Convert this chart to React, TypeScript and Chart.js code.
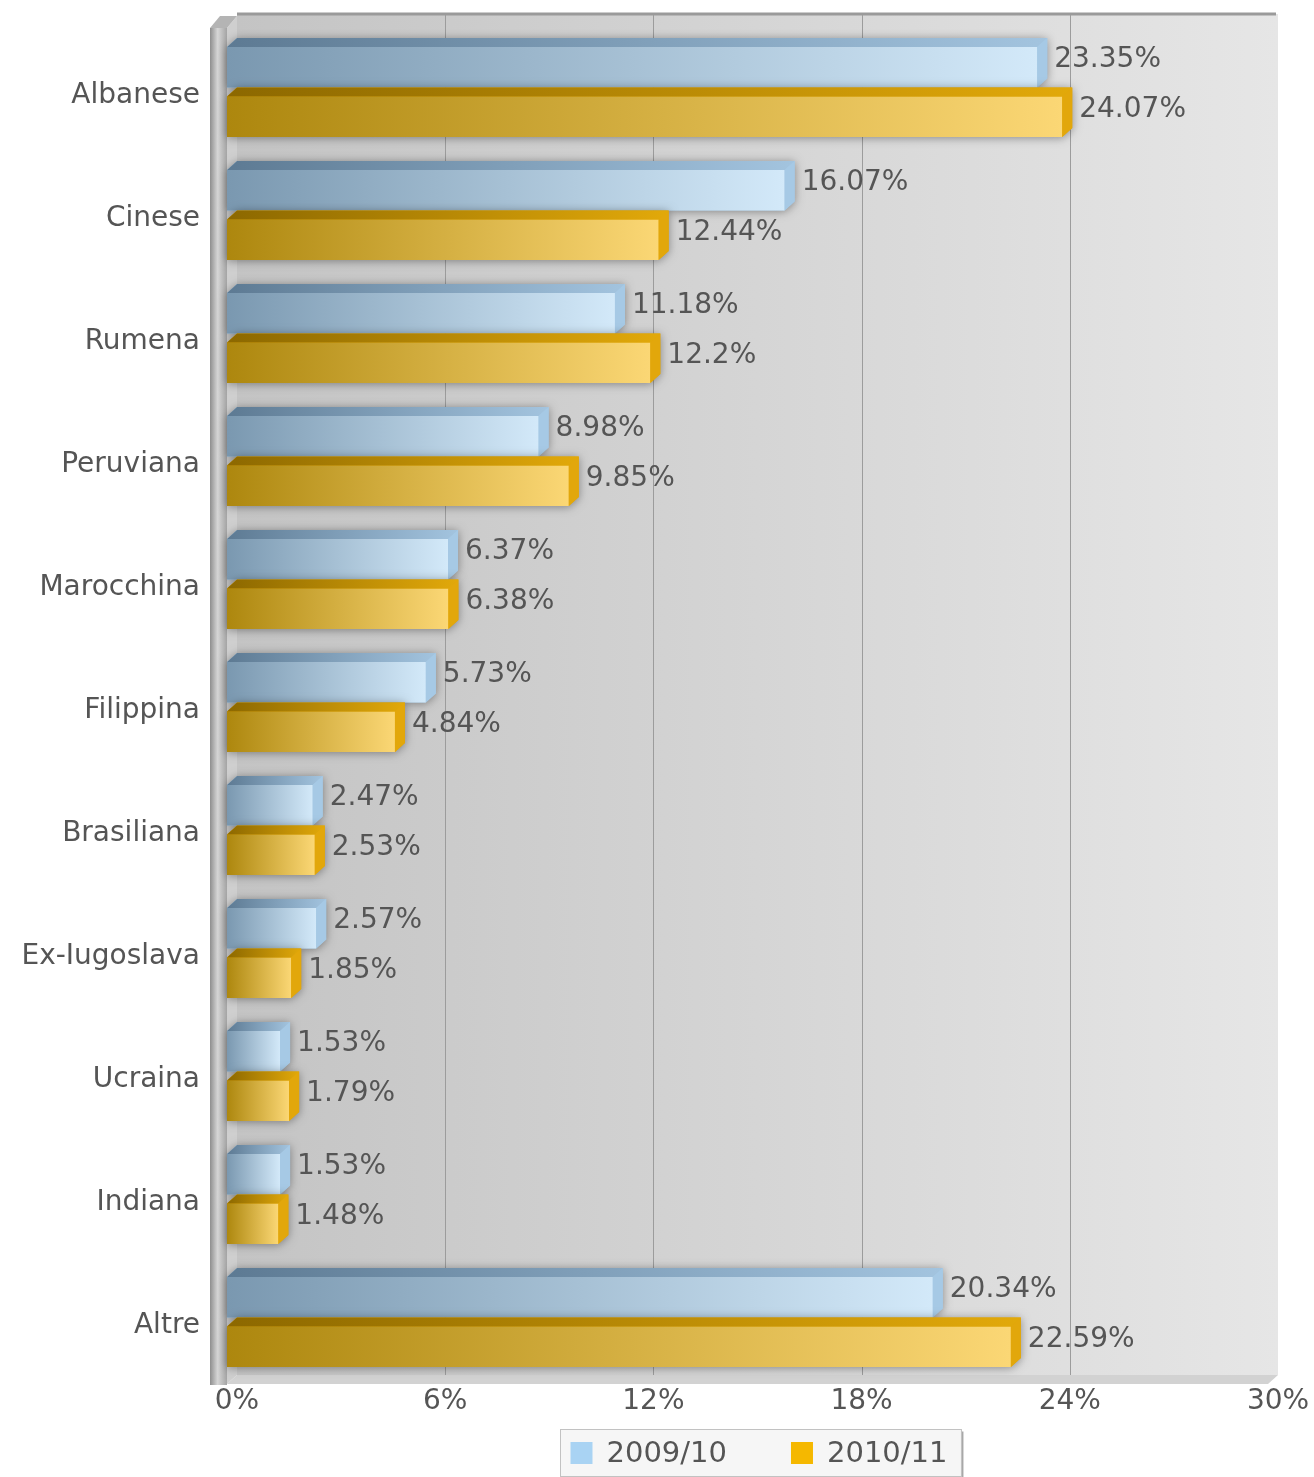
import React, { useEffect, useRef } from 'react';
import { Chart, registerables } from 'chart.js';

Chart.register(...registerables);

const categories = ['Albanese', 'Cinese', 'Rumena', 'Peruviana', 'Marocchina', 'Filippina', 'Brasiliana', 'Ex-Iugoslava', 'Ucraina', 'Indiana', 'Altre'];
const series2009 = [23.35, 16.07, 11.18, 8.98, 6.37, 5.73, 2.47, 2.57, 1.53, 1.53, 20.34];
const series2010 = [24.07, 12.44, 12.2, 9.85, 6.38, 4.84, 2.53, 1.85, 1.79, 1.48, 22.59];
const seriesLabels = ['2009/10', '2010/11'];
const xTickValues = [0, 6, 12, 18, 24, 30];

const FONT = '"DejaVu Sans", Verdana, sans-serif';
const TEXT = '#555555';
const DX = 10;
const DY = 9;

const palettes = [
  { front: ['#7a98b0', '#d3e9f9'], top: ['#5d7a93', '#a3c4df'], side: '#a6c9e5', legend: '#a9d3f3' },
  { front: ['#ad870e', '#fbd775'], top: ['#8c6800', '#e2a90a'], side: '#e2a70b', legend: '#f5b800' },
];

const backdrop = {
  id: 'backdrop',
  beforeDatasetsDraw(chart: any) {
    const { ctx, chartArea: ca, scales } = chart;
    const x = scales.x;
    const wallTop = ca.top - 12;
    const backBottom = ca.bottom - 4;
    const frontBottom = ca.bottom + 5;
    ctx.save();
    const g = ctx.createLinearGradient(ca.left + DX, 0, ca.right + DX, 0);
    g.addColorStop(0, '#c4c4c4');
    g.addColorStop(1, '#e6e6e6');
    ctx.fillStyle = g;
    ctx.fillRect(ca.left + DX, wallTop, ca.right - ca.left, backBottom - wallTop);
    ctx.strokeStyle = '#9a9a9a';
    ctx.lineWidth = 3;
    ctx.beginPath();
    ctx.moveTo(ca.left + DX, wallTop);
    ctx.lineTo(ca.right + DX - 2, wallTop);
    ctx.stroke();
    ctx.strokeStyle = '#9c9c9c';
    ctx.lineWidth = 1;
    xTickValues.forEach((v) => {
      if (v === xTickValues[0] || v === xTickValues[xTickValues.length - 1]) return;
      const px = Math.round(x.getPixelForValue(v) + DX) + 0.5;
      ctx.beginPath();
      ctx.moveTo(px, wallTop + 1);
      ctx.lineTo(px, backBottom);
      ctx.stroke();
    });
    ctx.fillStyle = '#d2d2d2';
    ctx.beginPath();
    ctx.moveTo(ca.left, frontBottom);
    ctx.lineTo(ca.left + DX, backBottom);
    ctx.lineTo(ca.right + DX, backBottom);
    ctx.lineTo(ca.right, frontBottom);
    ctx.closePath();
    ctx.fill();
    ctx.fillStyle = '#cfcfcf';
    ctx.beginPath();
    ctx.moveTo(ca.left, wallTop + 14);
    ctx.lineTo(ca.left + DX, wallTop + 2);
    ctx.lineTo(ca.left + DX, backBottom);
    ctx.lineTo(ca.left, frontBottom);
    ctx.closePath();
    ctx.fill();
    ctx.fillStyle = '#b4b4b4';
    ctx.beginPath();
    ctx.moveTo(ca.left - 17, wallTop + 14);
    ctx.lineTo(ca.left - 17 + DX, wallTop + 2);
    ctx.lineTo(ca.left + DX, wallTop + 2);
    ctx.lineTo(ca.left, wallTop + 14);
    ctx.closePath();
    ctx.fill();
    const lg = ctx.createLinearGradient(ca.left - 17, 0, ca.left, 0);
    lg.addColorStop(0, '#8e8e8e');
    lg.addColorStop(0.45, '#d6d6d6');
    lg.addColorStop(1, '#a4a4a4');
    ctx.fillStyle = lg;
    ctx.fillRect(ca.left - 17, wallTop + 14, 17, frontBottom + 1 - (wallTop + 14));
    ctx.restore();
  },
  afterDatasetsDraw(chart: any) {
    const { ctx } = chart;
    ctx.save();
    const labelsToDraw: any[] = [];
    chart.data.datasets.forEach((ds: any, di: number) => {
      const meta = chart.getDatasetMeta(di);
      const pal = palettes[di];
      meta.data.forEach((el: any, i: number) => {
        const { x: xe, y, base, height } = el.getProps(['x', 'y', 'base', 'height'], true);
        const t = y - height / 2;
        const b = y + height / 2;
        const ft = t + DY;
        ctx.save();
        ctx.shadowColor = 'rgba(0,0,0,0.38)';
        ctx.shadowBlur = 10;
        ctx.shadowOffsetY = 1;
        ctx.fillStyle = pal.side;
        ctx.beginPath();
        ctx.moveTo(base, ft);
        ctx.lineTo(base + DX, t);
        ctx.lineTo(xe + DX, t);
        ctx.lineTo(xe + DX, b - DY);
        ctx.lineTo(xe, b);
        ctx.lineTo(base, b);
        ctx.closePath();
        ctx.fill();
        ctx.restore();
        const fg = ctx.createLinearGradient(base, 0, xe, 0);
        fg.addColorStop(0, pal.front[0]);
        fg.addColorStop(1, pal.front[1]);
        ctx.fillStyle = fg;
        ctx.fillRect(base, ft, xe - base, b - ft);
        const tg = ctx.createLinearGradient(base, 0, xe + DX, 0);
        tg.addColorStop(0, pal.top[0]);
        tg.addColorStop(1, pal.top[1]);
        ctx.fillStyle = tg;
        ctx.beginPath();
        ctx.moveTo(base, ft);
        ctx.lineTo(base + DX, t);
        ctx.lineTo(xe + DX, t);
        ctx.lineTo(xe, ft);
        ctx.closePath();
        ctx.fill();
        ctx.fillStyle = pal.side;
        ctx.beginPath();
        ctx.moveTo(xe, ft);
        ctx.lineTo(xe + DX, t);
        ctx.lineTo(xe + DX, b - DY);
        ctx.lineTo(xe, b);
        ctx.closePath();
        ctx.fill();
        labelsToDraw.push({ text: String(ds.data[i]) + '%', x: xe + 17, y: y - 3 });
      });
    });
    ctx.font = `28px ${FONT}`;
    ctx.fillStyle = TEXT;
    ctx.textAlign = 'left';
    ctx.textBaseline = 'middle';
    labelsToDraw.forEach((l) => ctx.fillText(l.text, l.x, l.y));
    ctx.restore();
  },
  afterDraw(chart: any) {
    const { ctx, chartArea: ca } = chart;
    ctx.save();
    ctx.font = `29px ${FONT}`;
    const sq = 22;
    const gapSq = 14;
    const gapItem = 64;
    const padL = 10;
    const padR = 14;
    const widths = chart.data.datasets.map((d: any) => ctx.measureText(d.label).width);
    let total = padL + padR;
    widths.forEach((w: number, i: number) => {
      total += sq + gapSq + w + (i < widths.length - 1 ? gapItem : 0);
    });
    const cx = (ca.left + ca.right) / 2 + DX + 3;
    const bx = Math.round(cx - total / 2) + 0.5;
    const by = ca.bottom + 50.5;
    const bh = 47;
    ctx.fillStyle = '#a8a8a8';
    ctx.fillRect(bx + 2, by + 2, total, bh);
    ctx.fillStyle = '#f6f6f6';
    ctx.fillRect(bx, by, total, bh);
    ctx.strokeStyle = '#c2c2c2';
    ctx.lineWidth = 1;
    ctx.strokeRect(bx, by, total, bh);
    let cxPos = bx + padL;
    const midY = by + bh / 2;
    ctx.textAlign = 'left';
    ctx.textBaseline = 'middle';
    chart.data.datasets.forEach((d: any, i: number) => {
      ctx.fillStyle = palettes[i].legend;
      ctx.fillRect(cxPos, midY - sq / 2, sq, sq);
      cxPos += sq + gapSq;
      ctx.fillStyle = TEXT;
      ctx.fillText(d.label, cxPos, midY + 1);
      cxPos += widths[i] + gapItem;
    });
    ctx.restore();
  },
};

export default function App() {
  const ref = useRef<HTMLCanvasElement | null>(null);
  useEffect(() => {
    if (!ref.current) return;
    const chart = new Chart(ref.current, {
      type: 'bar',
      data: {
        labels: categories,
        datasets: [
          { label: seriesLabels[0], data: series2009, backgroundColor: 'rgba(0,0,0,0)', borderWidth: 0 },
          { label: seriesLabels[1], data: series2010, backgroundColor: 'rgba(0,0,0,0)', borderWidth: 0 },
        ],
      },
      options: {
        indexAxis: 'y',
        responsive: false,
        maintainAspectRatio: false,
        animation: false,
        devicePixelRatio: 1,
        datasets: { bar: { barPercentage: 1, categoryPercentage: 0.805 } },
        layout: { padding: { left: 0, right: 46, top: 26, bottom: 58 } },
        plugins: { legend: { display: false }, tooltip: { enabled: false } },
        scales: {
          x: {
            type: 'linear',
            min: 0,
            max: 30,
            afterBuildTicks: (s: any) => {
              s.ticks = xTickValues.map((v) => ({ value: v }));
            },
            ticks: {
              callback: (v: any) => v + '%',
              font: { size: 28, family: FONT },
              color: TEXT,
              labelOffset: 10,
              padding: 6,
              maxRotation: 0,
              autoSkip: false,
            },
            grid: { display: false, drawTicks: false },
            border: { display: false },
            afterFit: (s: any) => {
              s.height = 40;
              s.paddingLeft = 0;
              s.paddingRight = 0;
            },
          },
          y: {
            type: 'category',
            ticks: {
              font: { size: 28, family: FONT },
              color: TEXT,
              padding: 27,
              labelOffset: 8.5,
              autoSkip: false,
            },
            grid: { display: false, drawTicks: false },
            border: { display: false },
            afterFit: (s: any) => {
              s.width = 227;
              s.paddingTop = 0;
              s.paddingBottom = 0;
            },
          },
        },
      },
      plugins: [backdrop],
    } as any);
    return () => chart.destroy();
  }, []);
  return (
    <div style={{ position: 'fixed', left: 0, top: 0, width: 1314, height: 1477, background: '#fff' }}>
      <canvas ref={ref} width={1314} height={1477} style={{ display: 'block' }} />
    </div>
  );
}
